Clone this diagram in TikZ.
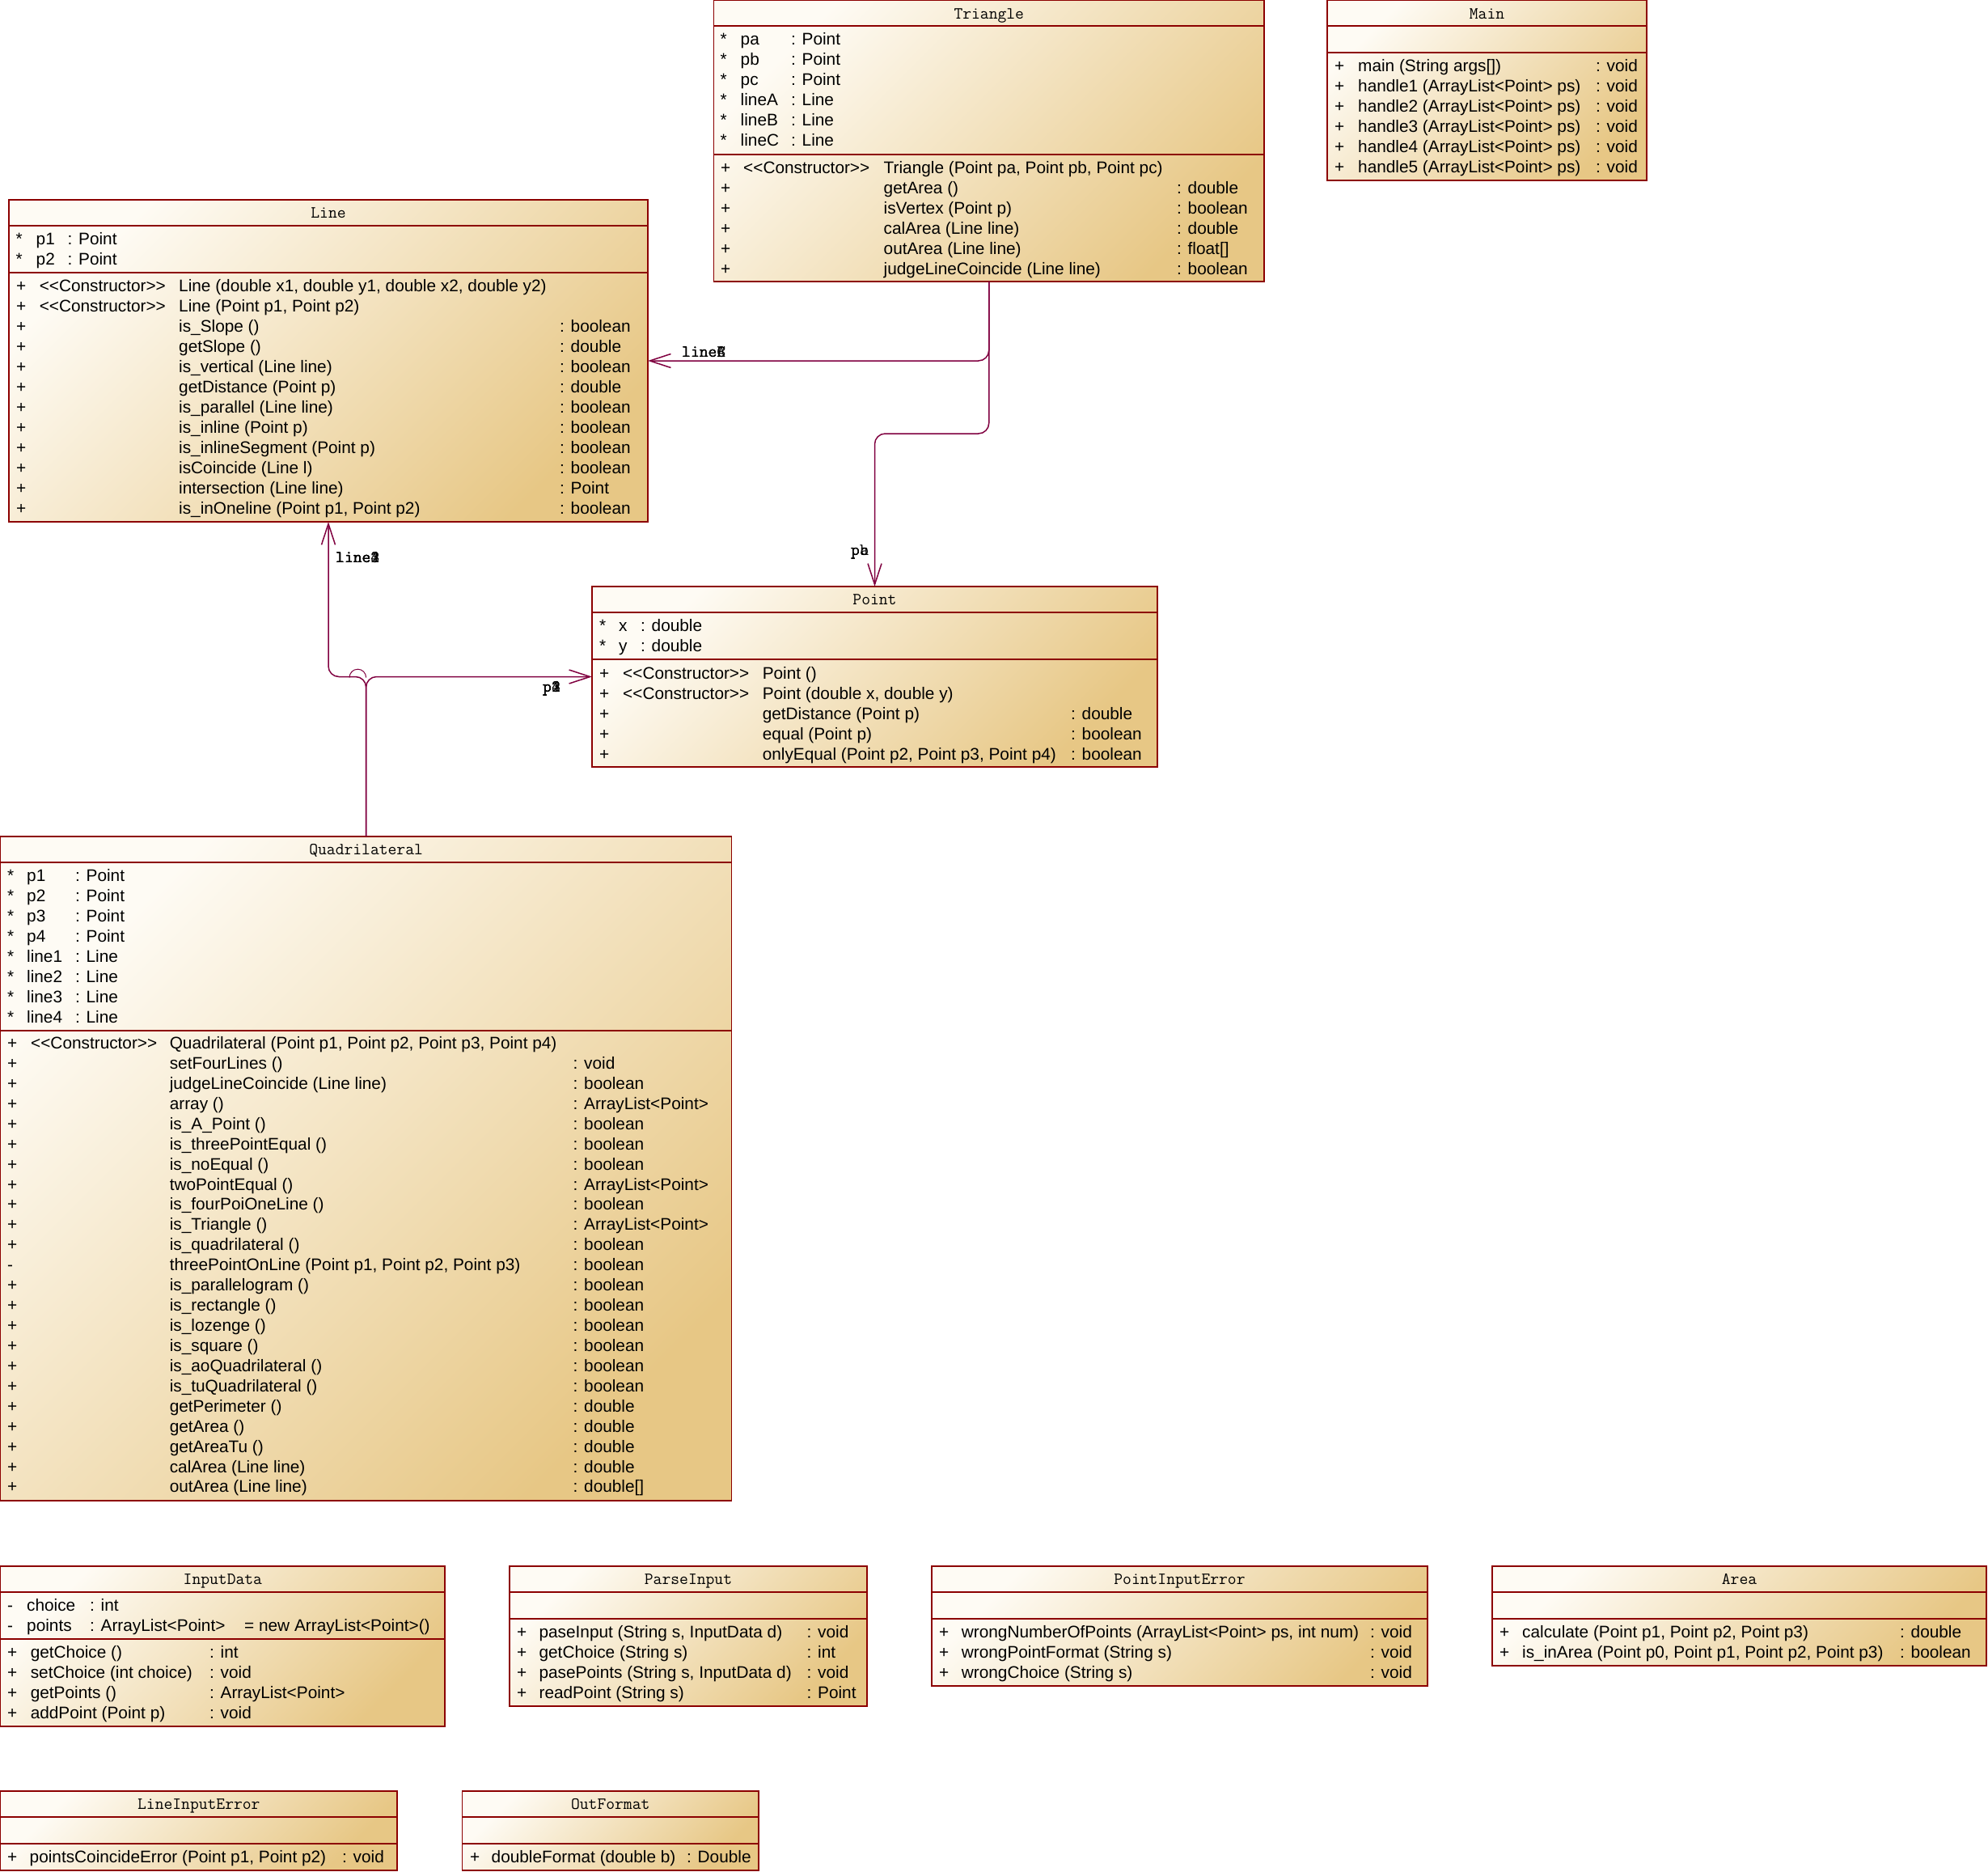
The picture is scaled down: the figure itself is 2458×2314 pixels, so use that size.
\documentclass[tikz,border=0pt]{standalone}
\usepackage{fontspec}
\setsansfont{Liberation Sans}[Ligatures=TeXOff]
\usetikzlibrary{arrows.meta}
\definecolor{bordc}{RGB}{140,0,0}
\definecolor{assocc}{RGB}{128,0,64}
\definecolor{fillA}{RGB}{254,251,244}
\definecolor{fillB}{RGB}{231,199,133}
\newcounter{txt}
\newcommand\mrow[3]{\stepcounter{txt}\node[mtxt] (t\arabic{txt}) at (#1,{#2+7.5}) {#3};}
\newcommand\umlbox[8]{%
  \node[classbox, minimum width={(#5-#3)*1pt}, minimum height={(#6-#4)*1pt}, anchor=north west] (#1) at (#3,#4) {};
  \draw[bord] (#3,#7) -- (#5,#7);
  \draw[bord] (#3,#8) -- (#5,#8);
  \node[hdr] (#1-title) at ({(#3+#5)/2},{#4+22.5}) {#2};
}
\begin{document}
\begin{tikzpicture}[x=1pt,y=-1pt,
  classbox/.style={rectangle, draw=bordc, line width=1.3pt, top color=fillA, bottom color=fillB, shading angle=45, inner sep=0pt, outer sep=0pt},
  bord/.style={draw=bordc, line width=1.3pt},
  hdr/.style={anchor=base, inner sep=0pt, font=\ttfamily\fontsize{21}{24}\selectfont},
  mtxt/.style={anchor=base west, inner sep=0pt, font=\sffamily\fontsize{20.8}{25}\selectfont},
  lbl/.style={anchor=base west, inner sep=0pt, font=\ttfamily\fontsize{21}{24}\selectfont},
  assoc/.style={draw=assocc, line width=1.5pt, rounded corners=13pt, -{Straight Barb[length=26pt,width=17pt]}},
]
\fill[white] (0,0) rectangle (2458,2314);

% ---------------- Triangle
\umlbox{tri}{Triangle}{882.5}{0.7}{1563}{348}{32}{191}
\foreach \n/\t [count=\i from 0] in {pa/Point,pb/Point,pc/Point,lineA/Line,lineB/Line,lineC/Line}{
  \mrow{890.5}{48+25*\i}{*}\mrow{915.5}{48+25*\i}{\n}\mrow{978}{48+25*\i}{: \t}}
\mrow{891}{207}{+}\mrow{919}{207}{<<Constructor>>}\mrow{1092.5}{207}{Triangle (Point pa, Point pb, Point pc)}
\foreach \m/\t [count=\i from 1] in {{getArea ()}/double,{isVertex (Point p)}/boolean,{calArea (Line line)}/double,{outArea (Line line)}/{float[]},{judgeLineCoincide (Line line)}/boolean}{
  \mrow{891}{207+25*\i}{+}\mrow{1092.5}{207+25*\i}{\m}\mrow{1455}{207+25*\i}{: \t}}

% ---------------- Main
\umlbox{main}{Main}{1641}{0.7}{2036}{223}{32}{65}
\foreach \m [count=\i from 0] in {{main (String args[])},{handle1 (ArrayList<Point> ps)},{handle2 (ArrayList<Point> ps)},{handle3 (ArrayList<Point> ps)},{handle4 (ArrayList<Point> ps)},{handle5 (ArrayList<Point> ps)}}{
  \mrow{1650}{81+25*\i}{+}\mrow{1679}{81+25*\i}{\m}\mrow{1973}{81+25*\i}{: void}}

% ---------------- Line
\umlbox{line}{Line}{11}{247}{801}{645}{279}{337}
\foreach \n [count=\i from 0] in {p1,p2}{
  \mrow{19.5}{295+25*\i}{*}\mrow{44.5}{295+25*\i}{\n}\mrow{83.5}{295+25*\i}{: Point}}
\mrow{20}{353}{+}\mrow{48.6}{353}{<<Constructor>>}\mrow{221}{353}{Line (double x1, double y1, double x2, double y2)}
\mrow{20}{378}{+}\mrow{48.6}{378}{<<Constructor>>}\mrow{221}{378}{Line (Point p1, Point p2)}
\foreach \m/\t [count=\i from 2] in {{is\_Slope ()}/boolean,{getSlope ()}/double,{is\_vertical (Line line)}/boolean,{getDistance (Point p)}/double,{is\_parallel (Line line)}/boolean,{is\_inline (Point p)}/boolean,{is\_inlineSegment (Point p)}/boolean,{isCoincide (Line l)}/boolean,{intersection (Line line)}/Point,{is\_inOneline (Point p1, Point p2)}/boolean}{
  \mrow{20}{353+25*\i}{+}\mrow{221}{353+25*\i}{\m}\mrow{692}{353+25*\i}{: \t}}

% ---------------- Point
\umlbox{point}{Point}{732}{725}{1431}{948}{757}{815}
\foreach \n [count=\i from 0] in {x,y}{
  \mrow{741}{773+25*\i}{*}\mrow{765}{773+25*\i}{\n}\mrow{792}{773+25*\i}{: double}}
\mrow{741}{831.5}{+}\mrow{770}{831.5}{<<Constructor>>}\mrow{942.6}{831.5}{Point ()}
\mrow{741}{856.5}{+}\mrow{770}{856.5}{<<Constructor>>}\mrow{942.6}{856.5}{Point (double x, double y)}
\foreach \m/\t [count=\i from 2] in {{getDistance (Point p)}/double,{equal (Point p)}/boolean,{onlyEqual (Point p2, Point p3, Point p4)}/boolean}{
  \mrow{741}{831.5+25*\i}{+}\mrow{942.6}{831.5+25*\i}{\m}\mrow{1324}{831.5+25*\i}{: \t}}

% ---------------- Quadrilateral
\umlbox{quad}{Quadrilateral}{0.7}{1034}{904.5}{1855}{1066}{1274}
\foreach \n/\t [count=\i from 0] in {p1/Point,p2/Point,p3/Point,p4/Point,line1/Line,line2/Line,line3/Line,line4/Line}{
  \mrow{9}{1082+25*\i}{*}\mrow{33}{1082+25*\i}{\n}\mrow{93}{1082+25*\i}{: \t}}
\mrow{9}{1289}{+}\mrow{38}{1289}{<<Constructor>>}\mrow{209.6}{1289}{Quadrilateral (Point p1, Point p2, Point p3, Point p4)}
\foreach \s/\m/\t [count=\i from 1] in {+/{setFourLines ()}/void,+/{judgeLineCoincide (Line line)}/boolean,+/{array ()}/{ArrayList<Point>},+/{is\_A\_Point ()}/boolean,+/{is\_threePointEqual ()}/boolean,+/{is\_noEqual ()}/boolean,+/{twoPointEqual ()}/{ArrayList<Point>},+/{is\_fourPoiOneLine ()}/boolean,+/{is\_Triangle ()}/{ArrayList<Point>},+/{is\_quadrilateral ()}/boolean,-/{threePointOnLine (Point p1, Point p2, Point p3)}/boolean,+/{is\_parallelogram ()}/boolean,+/{is\_rectangle ()}/boolean,+/{is\_lozenge ()}/boolean,+/{is\_square ()}/boolean,+/{is\_aoQuadrilateral ()}/boolean,+/{is\_tuQuadrilateral ()}/boolean,+/{getPerimeter ()}/double,+/{getArea ()}/double,+/{getAreaTu ()}/double,+/{calArea (Line line)}/double,+/{outArea (Line line)}/{double[]}}{
  \mrow{9}{1289+24.93*\i}{\s}\mrow{209.6}{1289+24.93*\i}{\m}\mrow{708.5}{1289+24.93*\i}{: \t}}

% ---------------- InputData
\umlbox{inputdata}{InputData}{0.7}{1936}{550}{2134}{1968}{2026}
\mrow{9}{1984}{-}\mrow{33}{1984}{choice}\mrow{111}{1984}{: int}
\mrow{9}{2009}{-}\mrow{33}{2009}{points}\mrow{111}{2009}{: ArrayList<Point>}\mrow{302}{2009}{= new ArrayList<Point>()}
\foreach \m/\t [count=\i from 0] in {{getChoice ()}/int,{setChoice (int choice)}/void,{getPoints ()}/{ArrayList<Point>},{addPoint (Point p)}/void}{
  \mrow{9}{2042+25*\i}{+}\mrow{37.6}{2042+25*\i}{\m}\mrow{259}{2042+25*\i}{: \t}}

% ---------------- ParseInput
\umlbox{parseinput}{ParseInput}{630}{1936}{1072}{2109}{1968}{2001}
\foreach \m/\t [count=\i from 0] in {{paseInput (String s, InputData d)}/void,{getChoice (String s)}/int,{pasePoints (String s, InputData d)}/void,{readPoint (String s)}/Point}{
  \mrow{639}{2017+25*\i}{+}\mrow{666.4}{2017+25*\i}{\m}\mrow{997.5}{2017+25*\i}{: \t}}

% ---------------- PointInputError
\umlbox{pie}{PointInputError}{1152}{1936}{1765}{2084}{1968}{2001}
\foreach \m [count=\i from 0] in {{wrongNumberOfPoints (ArrayList<Point> ps, int num)},{wrongPointFormat (String s)},{wrongChoice (String s)}}{
  \mrow{1161}{2017+25*\i}{+}\mrow{1188.7}{2017+25*\i}{\m}\mrow{1694}{2017+25*\i}{: void}}

% ---------------- Area
\umlbox{area}{Area}{1845}{1936}{2456}{2059}{1968}{2001}
\foreach \m/\t [count=\i from 0] in {{calculate (Point p1, Point p2, Point p3)}/double,{is\_inArea (Point p0, Point p1, Point p2, Point p3)}/boolean}{
  \mrow{1854}{2017+25*\i}{+}\mrow{1882}{2017+25*\i}{\m}\mrow{2349}{2017+25*\i}{: \t}}

% ---------------- LineInputError
\umlbox{lie}{LineInputError}{0.7}{2214}{491}{2312}{2246}{2279}
\mrow{9}{2295}{+}\mrow{36.5}{2295}{pointsCoincideError (Point p1, Point p2)}\mrow{423}{2295}{: void}

% ---------------- OutFormat
\umlbox{outformat}{OutFormat}{571.5}{2214}{938}{2312}{2246}{2279}
\mrow{581}{2295}{+}\mrow{607.5}{2295}{doubleFormat (double b)}\mrow{849}{2295}{: Double}

% ---------------- associations
\draw[assoc] (tri.south) -- (tri.south |- line.east) -- (line.east);
\draw[assoc] (tri.south) -- ++(0,188) -| (point.north);
\draw[assoc] (quad.north) |- (point.west);
\draw[assoc] (quad.north) -- (quad.north |- point.west) -| (line.south);
\draw[assocc, line width=1pt] (432,837.5) arc[start angle=180, end angle=360, radius=10.3];

\node[lbl] (lblA) at (843,441) {lineA};
\node[lbl] (lblC) at (843,441) {lineC};
\node[lbl] (lblB) at (843,441) {lineB};
\node[lbl] (lblpc) at (1052,686) {pc};
\node[lbl] (lblpb) at (1052,686) {pb};
\node[lbl] (lblpa) at (1052,686) {pa};
\node[lbl] (lbl1) at (415,695) {line1};
\node[lbl] (lbl3) at (415,695) {line3};
\node[lbl] (lbl4) at (415,695) {line4};
\node[lbl] (lbl2) at (415,695) {line2};
\node[lbl] (lblp1) at (671,855) {p1};
\node[lbl] (lblp3) at (671,855) {p3};
\node[lbl] (lblp4) at (671,855) {p4};
\node[lbl] (lblp2) at (671,855) {p2};
\end{tikzpicture}
\end{document}
